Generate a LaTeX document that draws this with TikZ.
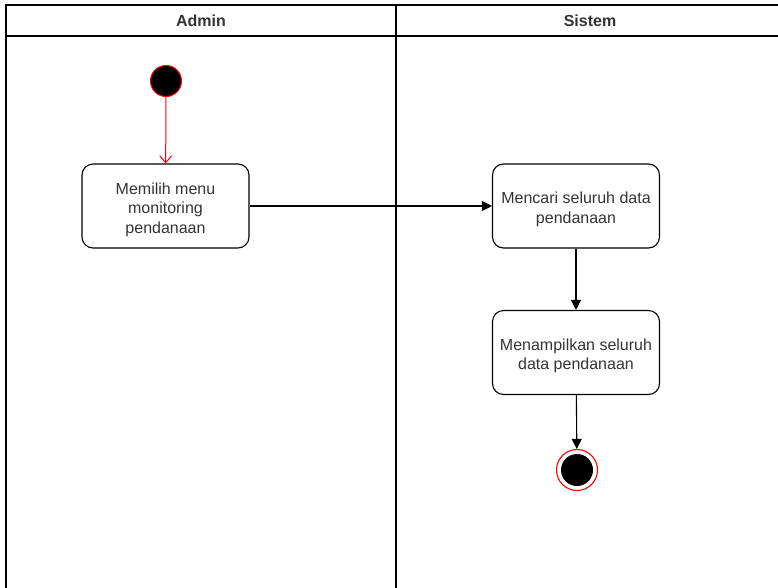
\documentclass[tikz,border=0pt]{standalone}
\usepackage{fontspec}
\setmainfont{Liberation Sans}
\usetikzlibrary{arrows.meta}
\begin{document}
\begin{tikzpicture}[x=1pt,y=-1pt,
  lane/.style={draw=black,line width=1.2pt},
  action/.style={draw=black,line width=1.1pt,rounded corners=11pt,
    minimum width=167pt,minimum height=84pt,inner sep=0pt},
  actiontext/.style={align=center,font=\fontsize{16}{19.5}\selectfont,
    text=black!80,inner sep=0pt},
  flow/.style={draw=black,line width=1.1pt,-{Triangle[length=10pt,width=10pt]}},
  startflow/.style={draw=red,line width=1pt,-{Straight Barb[length=7pt,width=12pt]}},
  header/.style={font=\bfseries\fontsize{16}{19}\selectfont,text=black!80}]
\useasboundingbox (0,0) rectangle (778,587);
\clip (0,0) rectangle (778,587);

% swimlane frame
\draw[lane] (6,600) -- (6,5) -- (790,5);
\draw[lane] (6,36) -- (790,36);
\draw[lane] (396,5) -- (396,600);
\node[header] (hAdmin) at (201,21) {Admin};
\node[header] (hSistem) at (590,21) {Sistem};

% start and end states
\node[circle,fill=black,draw=red,line width=1pt,minimum size=31pt,inner sep=0pt] (start) at (166,81) {};
\node[circle,draw=red,line width=1.1pt,minimum size=41pt,inner sep=0pt] (finish) at (577,470) {};
\node[circle,fill=black,minimum size=32pt,inner sep=0pt] (finishdot) at (577,470) {};

% actions
\node[action] (pilih) at (165.5,206) {};
\node[actiontext] (pilihText) at ([yshift=-3.5pt]pilih.center) {Memilih menu\\monitoring\\pendanaan};
\node[action] (cari) at (576,206) {};
\node[actiontext] (cariText) at ([yshift=-3.5pt]cari.center) {Mencari seluruh data\\pendanaan};
\node[action] (tampil) at (576,352.5) {};
\node[actiontext] (tampilText) at ([yshift=-3.5pt]tampil.center) {Menampilkan seluruh\\data pendanaan};

% transitions
\draw[startflow] (start) -- (pilih);
\draw[flow] (pilih) -- (cari);
\draw[flow] (cari) -- (tampil);
\draw[flow] (tampil) -- (finish);
\end{tikzpicture}
\end{document}
